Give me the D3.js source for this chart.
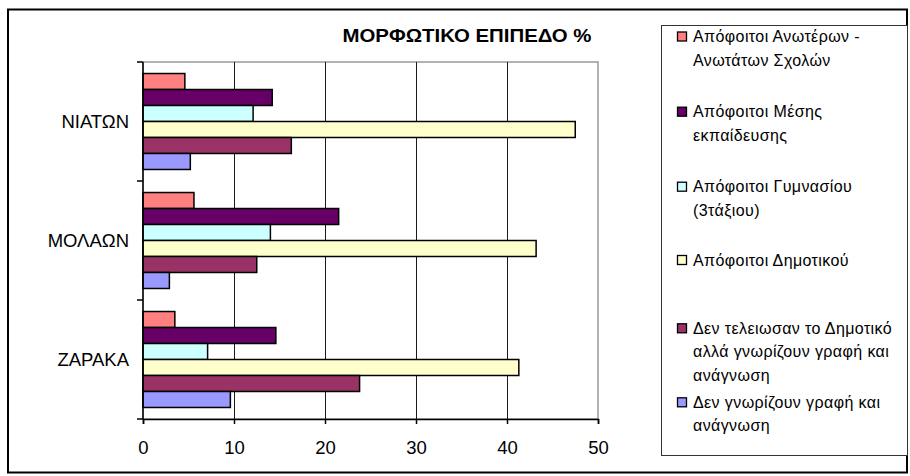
<!DOCTYPE html>
<html>
<head>
<meta charset="utf-8">
<script src="https://cdn.jsdelivr.net/npm/d3@7"></script>
<style>
  body { margin: 0; background: #fff; }
  text { font-family: "Liberation Sans", Arial, sans-serif; fill: #000; }
</style>
</head>
<body>
<div id="chart"></div>
<script>
// data
const categories = ['ΝΙΑΤΩΝ', 'ΜΟΛΑΩΝ', 'ΖΑΡΑΚΑ']
const seriesNames = [
  'Απόφοιτοι Ανωτέρων - Ανωτάτων Σχολών',
  'Απόφοιτοι Μέσης εκπαίδευσης',
  'Απόφοιτοι Γυμνασίου (3τάξιου)',
  'Απόφοιτοι Δημοτικού',
  'Δεν τελειωσαν το Δημοτικό αλλά γνωρίζουν γραφή και ανάγνωση',
  'Δεν γνωρίζουν γραφή και ανάγνωση'
]
// per series, values for ΝΙΑΤΩΝ, ΜΟΛΑΩΝ, ΖΑΡΑΚΑ
const anoteron = [4.6, 5.6, 3.5]
const mesis = [14.2, 21.5, 14.6]
const gymnasiou = [12.1, 14.0, 7.1]
const dimotikou = [47.5, 43.2, 41.3]
const denTeleiosan = [16.3, 12.5, 23.8]
const denGnorizoun = [5.2, 2.9, 9.6]
const xTicks = [0, 10, 20, 30, 40, 50]
const chartTitle = 'ΜΟΡΦΩΤΙΚΟ ΕΠΙΠΕΔΟ %'

// legend lines (zoals in de legenda afgebroken)
const legendLines = [
  ['Απόφοιτοι Ανωτέρων -', 'Ανωτάτων Σχολών'],
  ['Απόφοιτοι Μέσης', 'εκπαίδευσης'],
  ['Απόφοιτοι Γυμνασίου', '(3τάξιου)'],
  ['Απόφοιτοι Δημοτικού'],
  ['Δεν τελειωσαν το Δημοτικό', 'αλλά γνωρίζουν γραφή και', 'ανάγνωση'],
  ['Δεν γνωρίζουν γραφή και', 'ανάγνωση']
]

const seriesValues = [anoteron, mesis, gymnasiou, dimotikou, denTeleiosan, denGnorizoun]
const colors = ['#FF8080', '#660066', '#CCFFFF', '#FFFFCC', '#993366', '#9999FF']

// layout
const width = 910
const height = 476
const plot = { left: 143, right: 598, top: 62, bottom: 419 }
const legendBox = { x: 661, y: 25, w: 246, h: 430 }
const legendItemY = [36.5, 111.7, 186.7, 260, 328.3, 402.3]
const legendLineGap = 23.5

const svg = d3.select('#chart').append('svg')
  .attr('width', width).attr('height', height)

// buitenrand
svg.append('rect')
  .attr('x', 8).attr('y', 9.5)
  .attr('width', 899).attr('height', 463)
  .attr('fill', '#fff').attr('stroke', '#000').attr('stroke-width', 2)

// scales
const xScale = d3.scaleLinear().domain([0, 50]).range([plot.left, plot.right])
const yScale = d3.scaleBand().domain(categories).range([plot.top, plot.bottom]).padding(0)
const innerScale = d3.scaleBand().domain(d3.range(seriesNames.length))
  .range([0, yScale.bandwidth()]).paddingInner(0).paddingOuter(0.72)

// plot rand (grijs)
svg.append('rect')
  .attr('x', plot.left).attr('y', plot.top)
  .attr('width', plot.right - plot.left).attr('height', plot.bottom - plot.top)
  .attr('fill', 'none').attr('stroke', '#999').attr('stroke-width', 1.5)

// gridlijnen
svg.append('g').selectAll('line')
  .data(xTicks.slice(1, -1))
  .join('line')
  .attr('x1', d => Math.round(xScale(d)) + 0.5).attr('x2', d => Math.round(xScale(d)) + 0.5)
  .attr('y1', plot.top).attr('y2', plot.bottom)
  .attr('stroke', '#1a1a1a').attr('stroke-width', 1)

// balken
const rows = []
categories.forEach((c, ci) => {
  seriesValues.forEach((vals, si) => rows.push({ cat: c, s: si, v: vals[ci] }))
})
svg.append('g').selectAll('rect')
  .data(rows)
  .join('rect')
  .attr('x', xScale(0))
  .attr('y', d => yScale(d.cat) + innerScale(d.s))
  .attr('width', d => xScale(d.v) - xScale(0))
  .attr('height', innerScale.bandwidth())
  .attr('fill', d => colors[d.s])
  .attr('stroke', '#000').attr('stroke-width', 1.5)

// x-as
const xAxis = d3.axisBottom(xScale).tickValues(xTicks).tickSize(5).tickPadding(17)
const xAxisG = svg.append('g')
  .attr('transform', `translate(0, ${plot.bottom})`)
  .call(xAxis)
xAxisG.select('.domain').attr('stroke', '#000').attr('stroke-width', 1.5)
xAxisG.selectAll('.tick line').attr('stroke', '#000').attr('stroke-width', 1.5)
xAxisG.selectAll('text').attr('font-size', 18.5).attr('font-family', '"Liberation Sans", Arial, sans-serif')

// y-as: ticks op de grenzen van de categorieen
const yAxisG = svg.append('g')
yAxisG.append('line')
  .attr('x1', plot.left).attr('x2', plot.left)
  .attr('y1', plot.top).attr('y2', plot.bottom)
  .attr('stroke', '#000').attr('stroke-width', 1.5)
const bounds = categories.map(c => yScale(c)).concat([plot.bottom])
yAxisG.selectAll('.ytick')
  .data(bounds)
  .join('line')
  .attr('class', 'ytick')
  .attr('x1', plot.left - 6).attr('x2', plot.left)
  .attr('y1', d => d).attr('y2', d => d)
  .attr('stroke', '#000').attr('stroke-width', 1.5)
yAxisG.selectAll('.ylabel')
  .data(categories)
  .join('text')
  .attr('class', 'ylabel')
  .attr('x', 129)
  .attr('y', d => yScale(d) + yScale.bandwidth() / 2)
  .attr('dy', '0.35em')
  .attr('text-anchor', 'end')
  .attr('font-size', 18.5)
  .text(d => d)

// titel
svg.append('text')
  .attr('x', 467).attr('y', 42)
  .attr('text-anchor', 'middle')
  .attr('font-size', 19).attr('font-weight', 'bold')
  .attr('textLength', 249).attr('lengthAdjust', 'spacingAndGlyphs')
  .text(chartTitle)

// legenda
svg.append('rect')
  .attr('x', legendBox.x + 0.5).attr('y', legendBox.y + 0.5)
  .attr('width', legendBox.w).attr('height', legendBox.h)
  .attr('fill', '#fff').attr('stroke', '#333').attr('stroke-width', 1)

const legendG = svg.append('g')
const items = legendG.selectAll('g')
  .data(seriesNames)
  .join('g')
  .attr('transform', (d, i) => `translate(0, ${legendItemY[i]})`)
items.append('rect')
  .attr('x', 677.5).attr('y', -4.5)
  .attr('width', 9).attr('height', 9)
  .attr('fill', (d, i) => colors[i])
  .attr('stroke', '#000').attr('stroke-width', 1.3)
items.each(function (d, i) {
  d3.select(this).selectAll('text')
    .data(legendLines[i])
    .join('text')
    .attr('x', 693)
    .attr('y', (t, j) => j * legendLineGap)
    .attr('dy', '0.35em')
    .attr('font-size', 16)
    .attr('letter-spacing', 0.4)
    .text(t => t)
})
</script>
</body>
</html>
